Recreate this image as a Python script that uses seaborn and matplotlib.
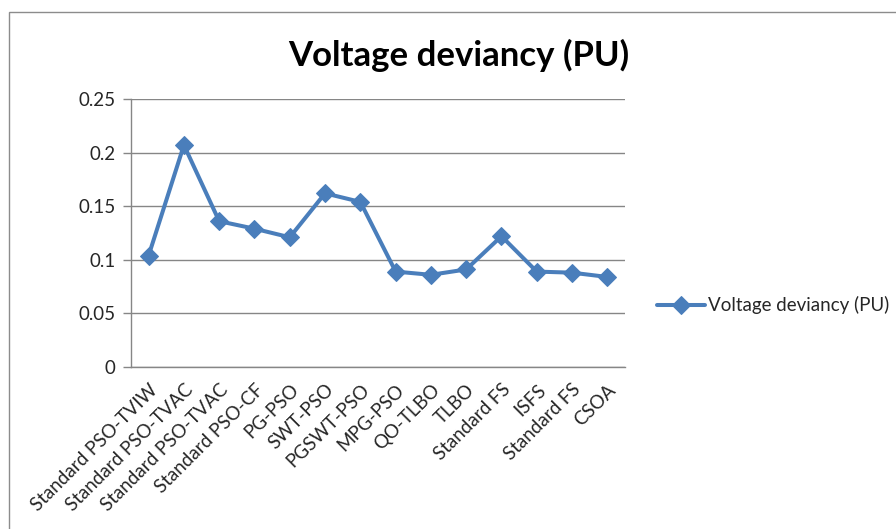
import numpy as np
import pandas as pd
import matplotlib
matplotlib.use('Agg')
import matplotlib.pyplot as plt
import seaborn as sns

# data
methods = ['Standard PSO-TVIW', 'Standard PSO-TVAC', 'Standard PSO-TVAC',
           'Standard PSO-CF', 'PG-PSO', 'SWT-PSO', 'PGSWT-PSO', 'MPG-PSO',
           'QO-TLBO', 'TLBO', 'Standard FS', 'ISFS', 'Standard FS', 'CSOA']
deviancy = [0.104, 0.207, 0.136, 0.129, 0.121, 0.162, 0.154, 0.089,
            0.086, 0.091, 0.122, 0.089, 0.088, 0.084]
y_ticks = [0, 0.05, 0.1, 0.15, 0.2, 0.25]
y_labels = ['0', '0.05', '0.1', '0.15', '0.2', '0.25']

sns.set_theme(style='white')
plt.rcParams['font.family'] = ['Lato', 'DejaVu Sans']

df = pd.DataFrame({'pos': np.arange(len(methods)), 'value': deviancy})

fig = plt.figure(figsize=(8.96, 5.29), dpi=100)
ax = fig.add_axes([0.1462, 0.3062, 0.5513, 0.5067])

blue = '#4A7EBB'
grid_gray = '#868686'
txt = '#262626'

sns.lineplot(data=df, x='pos', y='value', ax=ax, color=blue, linewidth=2.9,
             marker='D', markersize=9.5, markeredgecolor=blue,
             label='Voltage deviancy (PU)')

ax.set_xlim(-0.5, len(methods) - 0.5)
ax.set_ylim(0, 0.25)
ax.set_yticks(y_ticks)
ax.set_yticklabels(y_labels, fontsize=13.5, color=txt)
ax.set_xticks(df['pos'])
ax.set_xticklabels(methods, rotation=45, ha='right', rotation_mode='anchor',
                   fontsize=13.5, color=txt)
ax.tick_params(axis='x', which='major', length=0, pad=10)
ax.set_xticks(np.arange(-0.5, len(methods), 1), minor=True)
ax.tick_params(axis='x', which='minor', length=6, color=grid_gray, width=1)
ax.tick_params(axis='y', length=6, color=grid_gray, width=1, left=True, pad=5)
ax.set_xlabel('')
ax.set_ylabel('')

ax.yaxis.grid(True, color=grid_gray, linewidth=1)
ax.set_axisbelow(True)
for side in ['top', 'right']:
    ax.spines[side].set_visible(False)
for side in ['left', 'bottom']:
    ax.spines[side].set_color(grid_gray)
    ax.spines[side].set_linewidth(1)

fig.text(0.512, 0.896, 'Voltage deviancy (PU)', fontsize=25, fontweight='bold',
         ha='center', va='center', color='black')

ax.legend(loc='center left', bbox_to_anchor=(1.03, 0.23), frameon=False,
          fontsize=13.5, handlelength=2.6, handletextpad=0.15,
          labelcolor=txt)

# chart area border
fig.patches.append(plt.Rectangle((0.01, -0.1), 1.2, 1.077, transform=fig.transFigure,
                                 fill=False, edgecolor='#8C8C8C', linewidth=1))

plt.savefig('out.png', dpi=100)
